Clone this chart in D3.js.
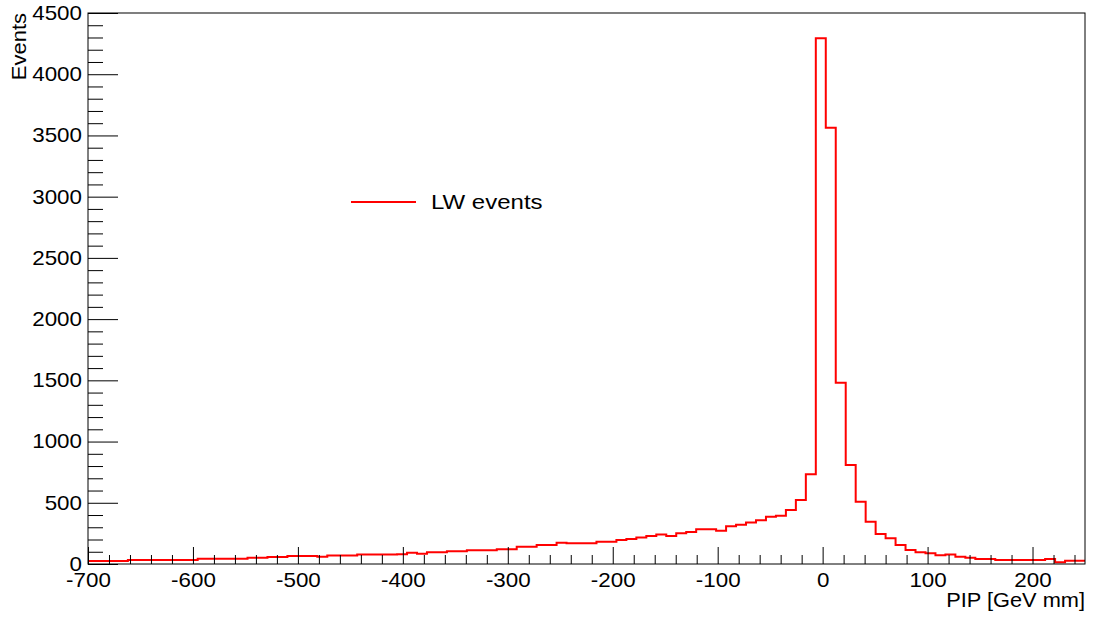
<!DOCTYPE html>
<html>
<head>
<meta charset="utf-8">
<script src="https://cdn.jsdelivr.net/npm/d3@7"></script>
<style>
  body { margin: 0; background: #fff; }
  text { font-family: "Liberation Sans", Arial, sans-serif; fill: #000; }
</style>
</head>
<body>
<div id="chart-area"></div>
<script>
// SVG size
let width = 1094,
	height = 619;
const margin = {left: 88, right: 9, top: 13, bottom: 55};
const stretch = 1.12;  // the text in the reference is a bit wider than Liberation Sans

// Histogram: 100 bins from -700 to 250 (bin width 9.5)
const xMin = -700, xMax = 250, nBins = 100;
const counts = [
	25, 25, 25, 25, 33, 33, 33, 33, 33, 33,
	33, 42, 42, 42, 42, 42, 52, 52, 58, 58,
	66, 66, 66, 60, 70, 70, 70, 77, 77, 77,
	77, 80, 92, 83, 95, 95, 104, 104, 112, 112,
	112, 120, 120, 141, 141, 155, 155, 174, 169, 169,
	169, 181, 181, 196, 205, 216, 229, 240, 229, 251,
	261, 283, 283, 272, 308, 320, 338, 357, 386, 395,
	441, 523, 732, 4293, 3563, 1481, 808, 509, 346, 245,
	210, 155, 114, 95, 87, 72, 78, 60, 52, 41,
	41, 33, 33, 33, 33, 33, 41, 14, 27, 27
];

// Axis ticks
const xMajorTicks = d3.range(-700, 201, 100);
const xMinorTicks = d3.range(-680, 250, 20).filter(v => v % 100 !== 0);
const yMajorTicks = d3.range(0, 4501, 500);
const yMinorTicks = d3.range(100, 4500, 100).filter(v => v % 500 !== 0);

const legendLabel = "LW events";
const xTitle = "PIP [GeV mm]";
const yTitle = "Events";

drawHistogram();

function drawHistogram() {
	let svg = d3.select("#chart-area")
		.append("svg")
		.attr("width", width)
		.attr("height", height);

	const x = d3.scaleLinear()
		.domain([xMin, xMax])
		.range([margin.left, width - margin.right]);

	const y = d3.scaleLinear()
		.domain([0, 4500])
		.range([height - margin.bottom, margin.top]);

	const binWidth = (xMax - xMin) / nBins;

	// step outline points
	let pts = [];
	counts.forEach((c, i) => {
		pts.push([xMin + i * binWidth, c]);
		pts.push([xMin + (i + 1) * binWidth, c]);
	});

	const line = d3.line()
		.x(d => x(d[0]))
		.y(d => y(d[1]));

	svg.append("path")
		.datum(pts)
		.attr("d", line)
		.attr("fill", "none")
		.attr("stroke", "#ff0000")
		.attr("stroke-width", 2);

	const plain = d => String(d);

	// minor ticks
	svg.append("g")
		.attr("transform", "translate(0," + y(0) + ")")
		.call(d3.axisBottom(x).tickValues(xMinorTicks).tickSize(-9).tickFormat(""))
		.call(g => g.select(".domain").remove());

	svg.append("g")
		.attr("transform", "translate(" + x(xMin) + ",0)")
		.call(d3.axisLeft(y).tickValues(yMinorTicks).tickSize(-15).tickFormat(""))
		.call(g => g.select(".domain").remove());

	// major ticks + labels
	svg.append("g")
		.attr("class", "x-axis")
		.attr("transform", "translate(0," + y(0) + ")")
		.call(d3.axisBottom(x).tickValues(xMajorTicks).tickFormat(plain)
			.tickSizeInner(-17).tickSizeOuter(0).tickPadding(9))
		.call(g => g.select(".domain").remove())
		.call(g => g.selectAll("text")
			.style("font-size", "20px")
			.attr("transform", "scale(" + stretch + ",1)"));

	svg.append("g")
		.attr("class", "y-axis")
		.attr("transform", "translate(" + x(xMin) + ",0)")
		.call(d3.axisLeft(y).tickValues(yMajorTicks).tickFormat(plain)
			.tickSizeInner(-30).tickSizeOuter(0).tickPadding(6))
		.call(g => g.select(".domain").remove())
		.call(g => g.selectAll("text")
			.style("font-size", "20px")
			.attr("x", -6 / stretch)
			.attr("transform", "scale(" + stretch + ",1)"));

	svg.selectAll(".tick line").attr("stroke", "#000");

	// frame
	svg.append("rect")
		.attr("x", x(xMin))
		.attr("y", y(4500))
		.attr("width", x(xMax) - x(xMin))
		.attr("height", y(0) - y(4500))
		.attr("fill", "none")
		.attr("stroke", "#000")
		.attr("stroke-width", 1);

	// axis titles
	svg.append("text")
		.attr("text-anchor", "end")
		.attr("transform", "translate(" + x(xMax) + ",607) scale(1.09,1)")
		.style("font-size", "20px")
		.text(xTitle);

	svg.append("text")
		.attr("text-anchor", "end")
		.attr("transform", "translate(26," + margin.top + ") rotate(-90) scale(1.1,1)")
		.style("font-size", "20px")
		.text(yTitle);

	// legend
	svg.append("line")
		.attr("x1", 351).attr("x2", 416)
		.attr("y1", 202).attr("y2", 202)
		.attr("stroke", "#ff0000")
		.attr("stroke-width", 2);

	svg.append("text")
		.attr("transform", "translate(431,209) scale(1.2,1)")
		.style("font-size", "20px")
		.text(legendLabel);
}
</script>
</body>
</html>
